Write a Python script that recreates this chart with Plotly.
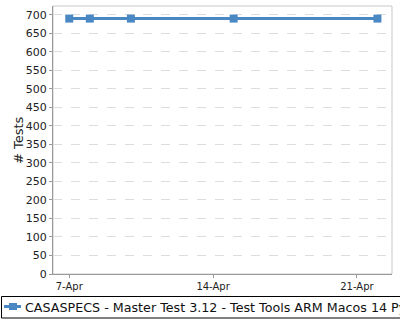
import plotly.graph_objects as go

dates = ["2024-04-07", "2024-04-08", "2024-04-10", "2024-04-15", "2024-04-22"]
tests = [690, 690, 690, 690, 690]
series_name = "CASASPECS - Master Test 3.12 - Test Tools ARM Macos 14 Py3.10"
y_title = "# Tests"
color = "#4a88c4"

# plot area in pixels
L, R, T, B = 53, 392, 6, 274
W, H = R - L, B - T
def px(x):
    return (x - L) / W
def py(y):
    return (B - y) / H

fig = go.Figure()
fig.add_trace(go.Scatter(
    x=dates, y=tests, mode="lines+markers", name=series_name,
    line=dict(color=color, width=3),
    marker=dict(symbol="square", size=8, color=color),
    showlegend=False,
))

fig.update_layout(
    width=400, height=320,
    margin=dict(l=L, r=400 - R, t=T, b=320 - B),
    paper_bgcolor="white", plot_bgcolor="white",
    font=dict(family="DejaVu Sans", size=11, color="#222"),
    showlegend=False,
    xaxis=dict(
        type="date",
        range=["2024-04-06 05:00", "2024-04-22 17:00"],
        tickvals=["2024-04-07", "2024-04-14", "2024-04-21"],
        tickformat="%-d-%b",
        showgrid=False, zeroline=False,
        showline=True, linecolor="#999", linewidth=1,
        ticks="outside", ticklen=3, tickcolor="#999",
        tickfont=dict(size=10),
    ),
    yaxis=dict(
        range=[0, 724], dtick=50, tick0=0,
        showgrid=True, gridcolor="#dddddd", griddash="dash", gridwidth=1,
        zeroline=False,
        showline=True, linecolor="#999", linewidth=1,
        ticks="outside", ticklen=3, tickcolor="#999",
        tickfont=dict(size=11),
    ),
    shapes=[
        dict(type="rect", xref="paper", yref="paper", x0=0, y0=0, x1=1, y1=1,
             line=dict(color="#c8c8c8", width=1), layer="below"),
        # legend box
        dict(type="rect", xref="paper", yref="paper", x0=px(1.5), x1=px(420),
             y0=py(318), y1=py(296.5), line=dict(color="black", width=1),
             fillcolor="white"),
        # legend symbol
        dict(type="line", xref="paper", yref="paper", x0=px(4), x1=px(21),
             y0=py(306.5), y1=py(306.5), line=dict(color=color, width=3)),
        dict(type="rect", xref="paper", yref="paper", x0=px(9), x1=px(17),
             y0=py(310), y1=py(303), line=dict(width=0), fillcolor=color),
    ],
    annotations=[
        dict(text=series_name, xref="paper", yref="paper", x=px(23), y=py(307),
             xanchor="left", yanchor="middle", showarrow=False,
             font=dict(size=12.7, color="#111")),
        dict(text=y_title, xref="paper", yref="paper", x=px(18), y=0.5,
             xanchor="center", yanchor="middle", showarrow=False, textangle=-90,
             font=dict(size=13, color="#222")),
    ],
)

fig.write_html("out.html")
